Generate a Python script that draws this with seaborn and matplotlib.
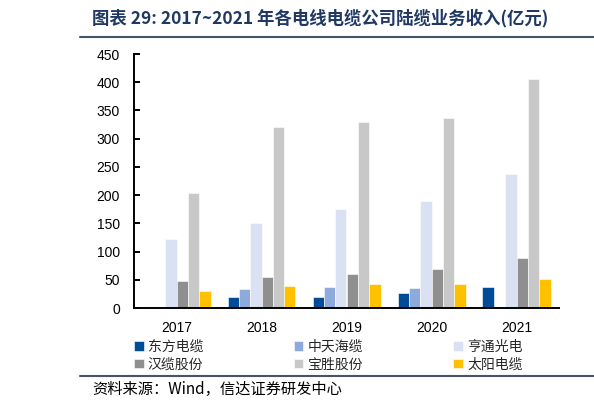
import matplotlib
matplotlib.use("Agg")
import matplotlib.pyplot as plt
from matplotlib.lines import Line2D
import seaborn as sns
import pandas as pd

years = ["2017", "2018", "2019", "2020", "2021"]
companies = ["东方电缆", "中天海缆", "亨通光电", "汉缆股份", "宝胜股份", "太阳电缆"]
dongfang = [0, 19, 20, 26, 38]
zhongtian = [0, 33, 37, 35, 0]
hengtong = [122, 150, 176, 190, 238]
hanlan = [47, 55, 61, 69, 89]
baosheng = [203, 320, 330, 336, 405]
taiyang = [31, 39, 42, 42, 51]
colors = ["#004C97", "#8EA9DB", "#DAE1F3", "#8F8F8F", "#C8C8C8", "#FFC000"]
yticks = [0, 50, 100, 150, 200, 250, 300, 350, 400, 450]

series = [dongfang, zhongtian, hengtong, hanlan, baosheng, taiyang]
rows = []
for comp, vals in zip(companies, series):
    for y, v in zip(years, vals):
        rows.append({"年份": y, "公司": comp, "收入": v})
df = pd.DataFrame(rows)

sns.set_style("white")
plt.rcParams["font.family"] = ["Liberation Sans", "Noto Sans CJK SC", "DejaVu Sans"]
cjk = ["Noto Sans CJK SC", "DejaVu Sans"]

fig = plt.figure(figsize=(5.94, 4.08), dpi=100)
ax = fig.add_axes([134 / 594, 1 - 308 / 408, (559 - 134) / 594, (308 - 54) / 408])

sns.barplot(data=df, x="年份", y="收入", hue="公司", hue_order=companies,
            palette=colors, width=0.8, ax=ax, edgecolor="white", linewidth=0.4,
            saturation=1, errorbar=None)

ax.set_ylim(0, 450)
ax.set_yticks(yticks)
ax.set_yticklabels([str(t) for t in yticks])
ax.set_xlabel("")
ax.set_ylabel("")
for s in ["top", "right"]:
    ax.spines[s].set_visible(False)
for s in ["left", "bottom"]:
    ax.spines[s].set_color("black")
    ax.spines[s].set_linewidth(1.4)
ax.tick_params(axis="y", direction="in", length=4, width=1.4, pad=10,
               labelsize=10, colors="black", left=True)
ax.tick_params(axis="x", length=0, pad=9, labelsize=10, colors="black")
ax.grid(False)

handles, labels = ax.get_legend_handles_labels()
ax.get_legend().remove()
order = [0, 3, 1, 4, 2, 5]
leg = fig.legend([handles[i] for i in order], [labels[i] for i in order],
                 ncol=3, loc="upper left", bbox_to_anchor=(134 / 594, 1 - 340 / 408),
                 frameon=False, prop={"family": cjk, "size": 10},
                 handlelength=0.7, handleheight=0.7, handletextpad=0.3,
                 columnspacing=6.5, labelspacing=0.25, borderaxespad=0, borderpad=0)

fig.text(92 / 594, 1 - 18 / 408, "图表 29: 2017~2021 年各电线电缆公司陆缆业务收入(亿元)",
         family=cjk, fontsize=12.5, fontweight="bold", color="#1F3864",
         ha="left", va="center")
fig.add_artist(Line2D([80 / 594, 1.0], [1 - 36.5 / 408] * 2, transform=fig.transFigure,
                      color="#44546A", linewidth=1.5))
fig.add_artist(Line2D([80 / 594, 1.0], [1 - 376 / 408] * 2, transform=fig.transFigure,
                      color="#44546A", linewidth=1.5))
fig.text(92 / 594, 1 - 389 / 408, "资料来源：Wind，信达证券研发中心",
         family=cjk, fontsize=11, style="italic", color="black",
         ha="left", va="center")

fig.savefig("out.png", dpi=100)
